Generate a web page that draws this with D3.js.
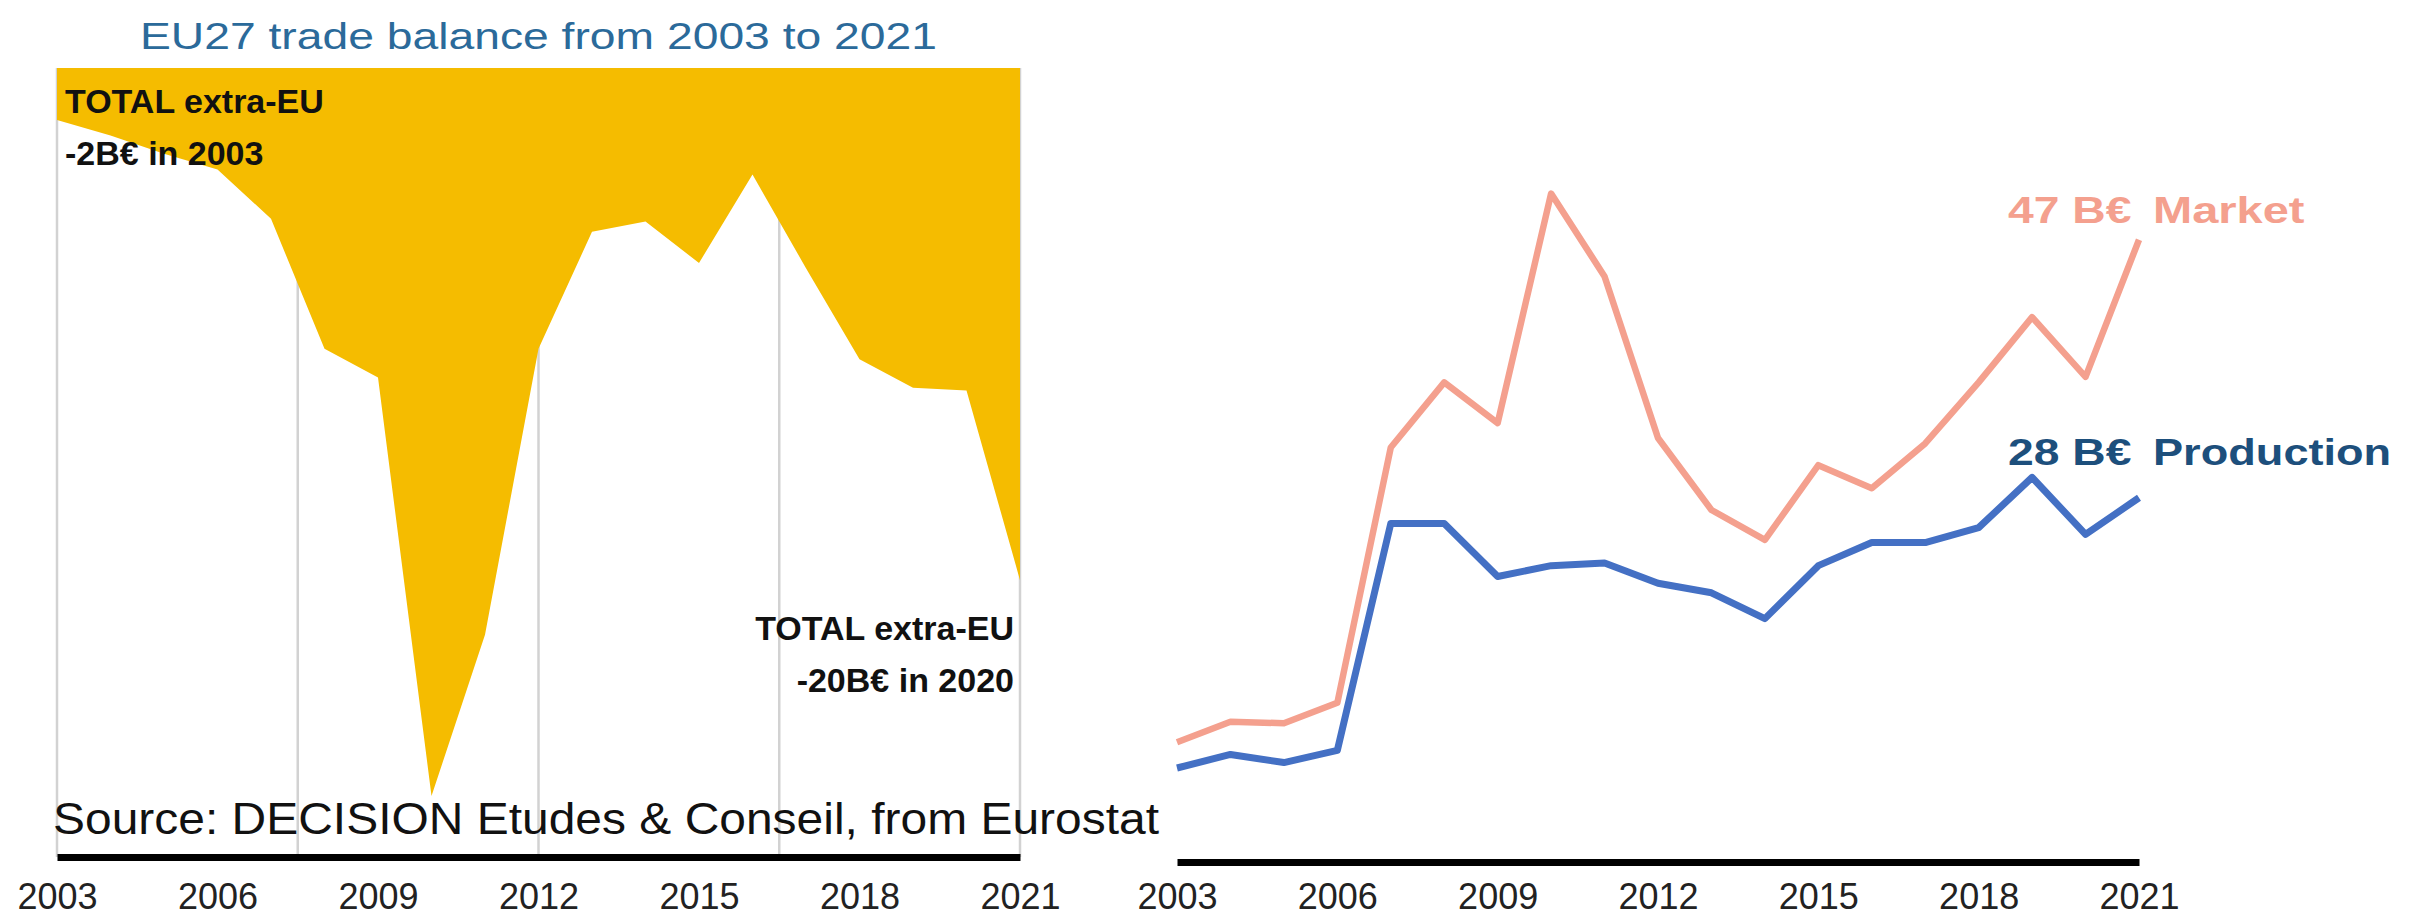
<!DOCTYPE html>
<html>
<head>
<meta charset="utf-8">
<script src="https://cdn.jsdelivr.net/npm/d3@7"></script>
<style>
  html, body { margin: 0; padding: 0; background: #fff; }
  svg { display: block; font-family: "Liberation Sans", Arial, Helvetica, sans-serif; }
</style>
</head>
<body>
<div id="chart"></div>
<script>
// data
var years = [2003, 2004, 2005, 2006, 2007, 2008, 2009, 2010, 2011, 2012,
             2013, 2014, 2015, 2016, 2017, 2018, 2019, 2020, 2021];
// EU27 trade balance, B€
var tradeBalance = [-2.0, -2.6, -3.3, -3.9, -5.8, -10.8, -11.9, -28.0, -21.8, -10.8,
                    -6.3, -5.9, -7.5, -4.1, -7.7, -11.2, -12.3, -12.4, -19.7];
// B€
var market = [10.0, 11.5, 11.4, 12.9, 31.7, 36.5, 33.5, 50.4, 44.3, 32.4,
              27.1, 24.9, 30.4, 28.7, 32.0, 36.5, 41.3, 36.9, 47.0];
var production = [8.1, 9.1, 8.5, 9.4, 26.1, 26.1, 22.2, 23.0, 23.2, 21.7,
                  21.0, 19.1, 23.0, 24.7, 24.7, 25.8, 29.5, 25.3, 28.0];
var tickYears = [2003, 2006, 2009, 2012, 2015, 2018, 2021];
var gridYears = [2003, 2007.5, 2012, 2016.5, 2021];

var width = 2422, height = 917;
var svg = d3.select("#chart").append("svg")
    .attr("width", width)
    .attr("height", height);

// ---------- left chart: trade balance ----------
var xL = d3.scaleLinear().domain([2003, 2021]).range([57, 1020]);
var yL = d3.scaleLinear().domain([0, -30]).range([68, 848]);
var axisYL = 857;

var left = svg.append("g");

left.append("g").selectAll("line")
    .data(gridYears)
    .enter()
    .append("line")
    .attr("x1", d => xL(d))
    .attr("x2", d => xL(d))
    .attr("y1", yL(0))
    .attr("y2", axisYL)
    .attr("stroke", "#d2d2d2")
    .attr("stroke-width", 2.5);

var area = d3.area()
    .x((d, i) => xL(years[i]))
    .y0(yL(0))
    .y1(d => yL(d));

left.append("path")
    .datum(tradeBalance)
    .attr("fill", "#f5bc00")
    .attr("d", area);

function scaledText(g, x, y, sx, txt) {
    return g.append("text")
        .attr("transform", `translate(${x},${y}) scale(${sx},1)`)
        .text(txt);
}

// annotations
var ann = left.append("g")
    .attr("font-weight", "bold")
    .attr("font-size", 34)
    .attr("fill", "#111");
ann.append("text").attr("x", 65).attr("y", 113).text("TOTAL extra-EU");
ann.append("text").attr("x", 65).attr("y", 165).text("-2B€ in 2003");
ann.append("text").attr("x", 1014).attr("y", 640).attr("text-anchor", "end").text("TOTAL extra-EU");
ann.append("text").attr("x", 1014).attr("y", 692).attr("text-anchor", "end").text("-20B€ in 2020");

// title
scaledText(svg, 140, 49, 1.25, "EU27 trade balance from 2003 to 2021")
    .attr("font-size", 37)
    .attr("fill", "#2b6a9a");

// source
scaledText(svg, 53, 834, 1.09, "Source: DECISION Etudes & Conseil, from Eurostat")
    .attr("font-size", 44)
    .attr("fill", "#111");

function drawAxis(g, scale, y, labelY) {
    var ax = g.append("g")
        .attr("transform", `translate(0, ${y})`)
        .call(d3.axisBottom(scale)
            .tickValues(tickYears)
            .tickFormat(d3.format("d"))
            .tickSize(0)
            .tickSizeOuter(0));
    ax.select(".domain")
        .attr("stroke", "#000")
        .attr("stroke-width", 7);
    ax.selectAll("text")
        .attr("y", labelY - y)
        .attr("dy", 0)
        .attr("font-size", 36)
        .attr("font-family", "\"Liberation Sans\", Arial, sans-serif")
        .attr("fill", "#222");
    return ax;
}

drawAxis(left, xL, axisYL, 909);

// ---------- right chart: market vs production ----------
var xR = d3.scaleLinear().domain([2003, 2021]).range([1177, 2139]);
var yR = d3.scaleLinear().domain([0, 50]).range([878, 199]);
var axisYR = 862;

var right = svg.append("g");

var line = d3.line()
    .x((d, i) => xR(years[i]))
    .y(d => yR(d));

right.append("path")
    .datum(production)
    .attr("fill", "none")
    .attr("stroke", "#4470c4")
    .attr("stroke-width", 7)
    .attr("stroke-linejoin", "round")
    .attr("d", line);

right.append("path")
    .datum(market)
    .attr("fill", "none")
    .attr("stroke", "#f4a08e")
    .attr("stroke-width", 6.5)
    .attr("stroke-linejoin", "round")
    .attr("d", line);

drawAxis(right, xR, axisYR, 909);

// series labels
var lab = right.append("g")
    .attr("font-weight", "bold")
    .attr("font-size", 37);
scaledText(lab, 2008, 223, 1.25, "47 B€").attr("fill", "#f4a08e");
scaledText(lab, 2153, 223, 1.27, "Market").attr("fill", "#f4a08e");
scaledText(lab, 2008, 465, 1.25, "28 B€").attr("fill", "#1d4f7c");
scaledText(lab, 2153, 465, 1.22, "Production").attr("fill", "#1d4f7c");
</script>
</body>
</html>
